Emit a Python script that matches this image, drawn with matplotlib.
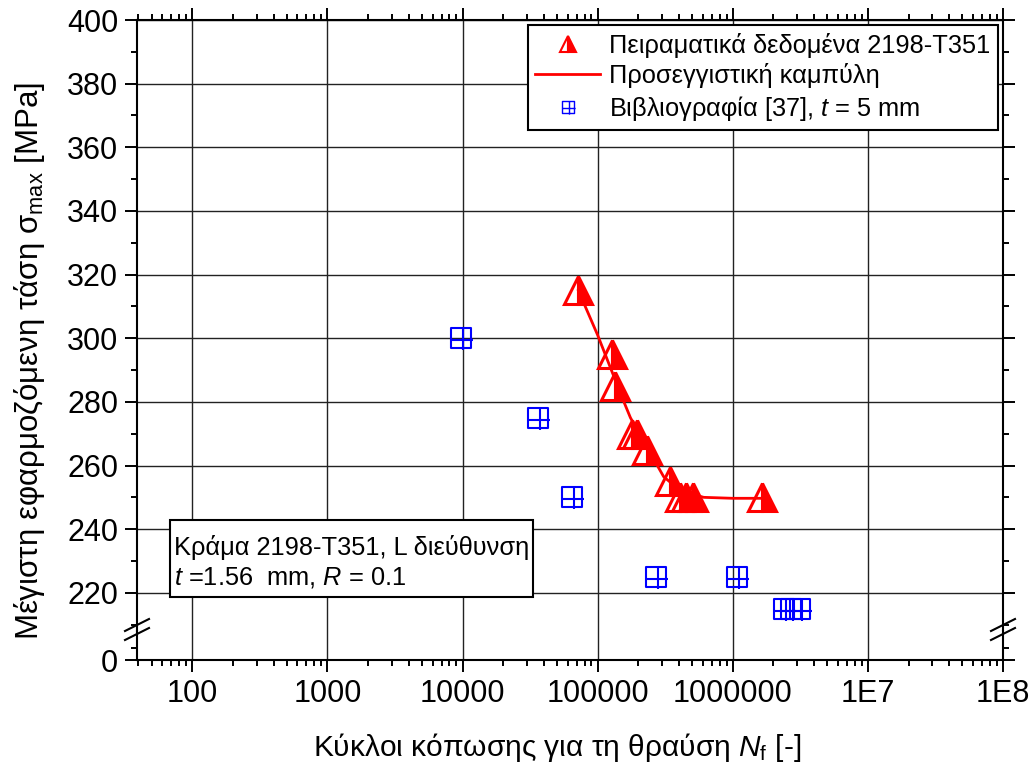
import numpy as np
import matplotlib
matplotlib.use("Agg")
from matplotlib import pyplot as plt
from matplotlib.path import Path
from matplotlib.lines import Line2D
from matplotlib.patches import Rectangle
from matplotlib.ticker import FixedLocator, LogLocator, NullFormatter

# experimental data 2198-T351 (cycles, max stress MPa)
n_exp = [72000, 128000, 135000, 180000, 197000, 230000, 345000, 410000, 450000, 505000, 1640000]
s_exp = [315, 295, 285, 270, 270, 265, 255, 250, 250, 250, 250]

# fitted curve
n_fit = [72000, 100000, 153000, 175000, 260000, 308000, 412000, 610000, 1000000, 1640000]
s_fit = [315, 301, 281, 275, 262, 256.5, 252, 250, 249.7, 249.7]

# literature [37], t = 5 mm
n_lit = [9700, 36200, 65000, 269000, 1080000, 2390000, 2690000, 3130000]
s_lit = [300, 275, 250, 225, 225, 215, 215, 215]

x_ticks = [100, 1000, 10000, 100000, 1000000, 1e7, 1e8]
x_ticklabels = ["100", "1000", "10000", "100000", "1000000", "1E7", "1E8"]
y_ticks = [220, 240, 260, 280, 300, 320, 340, 360, 380, 400]

RED = "#ff0000"
BLUE = "#0000ff"


def boxplus():
    verts = [(-1, -1), (1, -1), (1, 1), (-1, 1), (-1, -1),
             (0.2, 1), (0.2, -1.25),
             (-1, -0.2), (1.25, -0.2)]
    codes = [Path.MOVETO, Path.LINETO, Path.LINETO, Path.LINETO, Path.CLOSEPOLY,
             Path.MOVETO, Path.LINETO,
             Path.MOVETO, Path.LINETO]
    return Path(verts, codes)


def style_axis(ax):
    ax.set_xscale("log")
    ax.set_xlim(39, 1e8)
    for s in ax.spines.values():
        s.set_linewidth(1.5)
    ax.tick_params(which="both", direction="out", width=1.4,
                   top=True, right=True, labelsize=22, pad=5)
    ax.tick_params(which="major", length=8.5)
    ax.tick_params(which="minor", length=4.5)
    ax.xaxis.set_major_locator(FixedLocator(x_ticks))
    ax.xaxis.set_minor_locator(LogLocator(base=10, subs=np.arange(2, 10), numticks=20))
    ax.xaxis.set_minor_formatter(NullFormatter())
    ax.grid(True, which="major", color="#222222", linewidth=1.0)


def main():
    plt.rcParams["font.family"] = ["Liberation Sans", "DejaVu Sans"]
    plt.rcParams["mathtext.fontset"] = "custom"
    plt.rcParams["mathtext.rm"] = "Liberation Sans"
    plt.rcParams["mathtext.it"] = "Liberation Sans:italic"

    fig = plt.figure(figsize=(10.35, 7.73), dpi=100)
    W, H = 1035.0, 773.0
    left, right = 137 / W, 1003 / W
    top_px, brk_px, bot_px = 20, 631, 660
    ax1 = fig.add_axes([left, 1 - brk_px / H, right - left, (brk_px - top_px) / H])
    ax2 = fig.add_axes([left, 1 - bot_px / H, right - left, (bot_px - brk_px) / H], sharex=ax1)

    style_axis(ax1)
    style_axis(ax2)

    # upper part
    ax1.set_ylim(208, 400)
    ax1.set_yticks(y_ticks)
    ax1.yaxis.set_minor_locator(FixedLocator(np.arange(210, 400, 20)))
    ax1.spines["bottom"].set_visible(False)
    ax1.tick_params(axis="x", which="both", bottom=False, labelbottom=False)

    # lower part
    ax2.set_ylim(0, 24)
    ax2.set_yticks([0])
    ax2.yaxis.set_minor_locator(FixedLocator([10]))
    ax2.spines["top"].set_visible(False)
    ax2.tick_params(axis="x", which="both", top=False)
    ax2.set_xticks(x_ticks)
    ax2.set_xticklabels(x_ticklabels)

    bp = boxplus()
    ax1.plot(n_fit, s_fit, color=RED, linewidth=2.0, zorder=3)
    ax1.plot(n_exp, s_exp, linestyle="none", marker="^", markersize=20.5,
             fillstyle="right", markerfacecolor=RED, markerfacecoloralt="none",
             markeredgecolor=RED, markeredgewidth=2.2, zorder=4)
    ax1.plot(n_lit, s_lit, linestyle="none", marker=bp, markersize=17.5,
             markerfacecolor="none", markeredgecolor=BLUE, markeredgewidth=1.5, zorder=4)

    # break marks on the y spines
    for xs in (left, right):
        for yp in (625, 634):
            y0 = 1 - (yp + 6) / H
            y1 = 1 - (yp - 6) / H
            fig.add_artist(Line2D([xs - 12 / W, xs + 12 / W], [y0, y1],
                                  color="black", linewidth=1.5))

    handles = [
        Line2D([], [], linestyle="none", marker="^", markersize=11, fillstyle="right",
               markerfacecolor=RED, markerfacecoloralt="none", markeredgecolor=RED,
               markeredgewidth=1.5),
        Line2D([], [], color=RED, linewidth=2.0),
        Line2D([], [], linestyle="none", marker=bp, markersize=10,
               markerfacecolor="none", markeredgecolor=BLUE, markeredgewidth=1.0),
    ]
    labels = ["Πειραματικά δεδομένα 2198-T351",
              "Προσεγγιστική καμπύλη",
              "Βιβλιογραφία [37], $t$ = 5 mm"]
    leg = fig.legend(handles, labels, loc="upper right",
                     bbox_to_anchor=(998 / W, 1 - 25 / H), fontsize=18.3,
                     frameon=True, fancybox=False, borderaxespad=0,
                     handlelength=2.55, handletextpad=0.35, borderpad=0.3,
                     labelspacing=0.22)
    leg.get_frame().set_edgecolor("black")
    leg.get_frame().set_linewidth(1.5)
    leg.get_frame().set_alpha(1)

    # annotation box
    fig.add_artist(Rectangle((170 / W, 1 - 597 / H), 363 / W, 77 / H,
                             transform=fig.transFigure, facecolor="white",
                             edgecolor="black", linewidth=1.5, zorder=5))
    fig.text(174 / W, 1 - 548 / H, "Κράμα 2198-T351, L διεύθυνση",
             fontsize=18.3, va="center", ha="left", zorder=6)
    fig.text(174 / W, 1 - 577 / H, "$t$ =1.56  mm, $R$ = 0.1",
             fontsize=18.3, va="center", ha="left", zorder=6)

    fig.text(557 / W, 1 - 748 / H,
             "Κύκλοι κόπωσης για τη θραύση $N_{\\mathrm{f}}$ [-]",
             fontsize=21.5, ha="center", va="center")
    fig.text(30 / W, 1 - 361 / H,
             "Μέγιστη εφαρμοζόμενη τάση σ$_{\\mathrm{max}}$ [MPa]",
             fontsize=22.5, ha="center", va="center", rotation=90)

    fig.savefig("out.png", dpi=100)


if __name__ == "__main__":
    main()
